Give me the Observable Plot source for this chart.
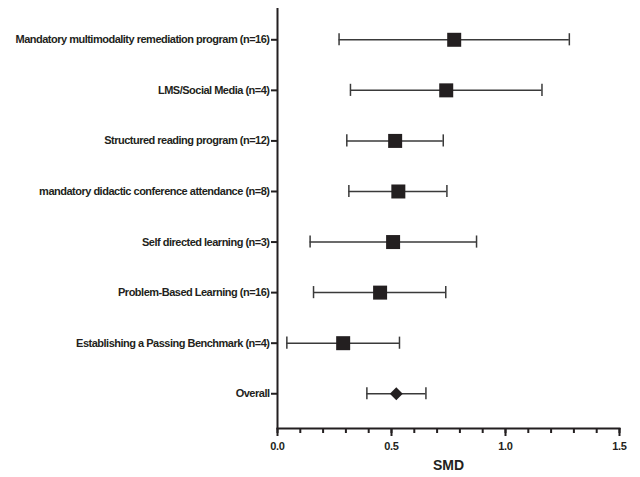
<!DOCTYPE html>
<html>
<head>
<meta charset="utf-8">
<script src="https://cdn.jsdelivr.net/npm/d3@7"></script>
<script src="https://cdn.jsdelivr.net/npm/@observablehq/plot@0.6"></script>
<style>
  html, body { margin: 0; padding: 0; background: #fff; }
  svg { display: block; }
  svg text { font-stretch: condensed; }
  svg g[aria-label="y-axis tick label"] text { letter-spacing: -0.5px; }
  svg g[aria-label="x-axis tick label"] text { letter-spacing: -0.3px; }
</style>
</head>
<body>
<div id="chart"></div>
<script>
const labels = [
  "Mandatory multimodality remediation program (n=16)",
  "LMS/Social Media (n=4)",
  "Structured reading program (n=12)",
  "mandatory didactic conference attendance (n=8)",
  "Self directed learning (n=3)",
  "Problem-Based Learning (n=16)",
  "Establishing a Passing Benchmark (n=4)",
  "Overall"
];
const smd   = [0.775, 0.74, 0.516, 0.53, 0.507, 0.45, 0.288, 0.521];
const lower = [0.27, 0.32, 0.304, 0.313, 0.143, 0.158, 0.041, 0.392];
const upper = [1.28, 1.16, 0.727, 0.743, 0.873, 0.738, 0.535, 0.651];
const majorTicks = [0, 0.5, 1.0, 1.5];
const minorTicks = [0, 0.1, 0.2, 0.3, 0.4, 0.5, 0.6, 0.7, 0.8, 0.9, 1.0, 1.1, 1.2, 1.3, 1.4, 1.5];

const data = labels.map((label, i) => ({label, smd: smd[i], lo: lower[i], hi: upper[i], overall: label === "Overall"}));

const font = "'Liberation Sans Narrow', 'Arial Narrow', 'Liberation Sans', Arial, sans-serif";

const chart = Plot.plot({
  width: 640,
  height: 477,
  marginLeft: 277,
  marginRight: 21,
  marginTop: 8,
  marginBottom: 49,
  style: {fontFamily: font, fontWeight: "bold", fontSize: "11px", color: "#231f20", background: "#fff"},
  x: {domain: [0, 1.5], label: null},
  y: {type: "band", domain: labels, range: [7.94, 424.6], paddingInner: 0.76, paddingOuter: 0.5, round: false, label: null},
  marks: [
    Plot.frame({anchor: "bottom", stroke: "#231f20", strokeWidth: 2}),
    Plot.ruleX([0], {stroke: "#231f20", strokeWidth: 2}),
    Plot.axisY({tickSize: 6, tickPadding: 2, strokeWidth: 2, stroke: "#231f20", fill: "#231f20", fontSize: 11}),
    Plot.axisX({ticks: minorTicks, tickSize: 5, strokeWidth: 2, stroke: "#231f20", text: null, label: null}),
    Plot.axisX({ticks: majorTicks, tickSize: 8, strokeWidth: 2, stroke: "#231f20", fill: "#231f20", tickFormat: d => d.toFixed(1), tickPadding: 6, fontSize: 11, label: null}),
    Plot.text(["SMD"], {frameAnchor: "bottom", dy: 41, text: d => d, fontSize: 14, fontWeight: "bold", fill: "#231f20"}),
    Plot.ruleY(data, {y: "label", x1: "lo", x2: "hi", stroke: "#3a3a3a", strokeWidth: 1.5}),
    Plot.tickX(data, {y: "label", x: "lo", stroke: "#3a3a3a", strokeWidth: 1.5}),
    Plot.tickX(data, {y: "label", x: "hi", stroke: "#3a3a3a", strokeWidth: 1.5}),
    Plot.dot(data.filter(d => !d.overall), {y: "label", x: "smd", symbol: "square", r: 7.9, fill: "#231f20", stroke: "none"}),
    Plot.dot(data.filter(d => d.overall), {y: "label", x: "smd", symbol: "diamond2", r: 5.8, fill: "#231f20", stroke: "none"})
  ]
});
document.getElementById("chart").appendChild(chart);
</script>
</body>
</html>
